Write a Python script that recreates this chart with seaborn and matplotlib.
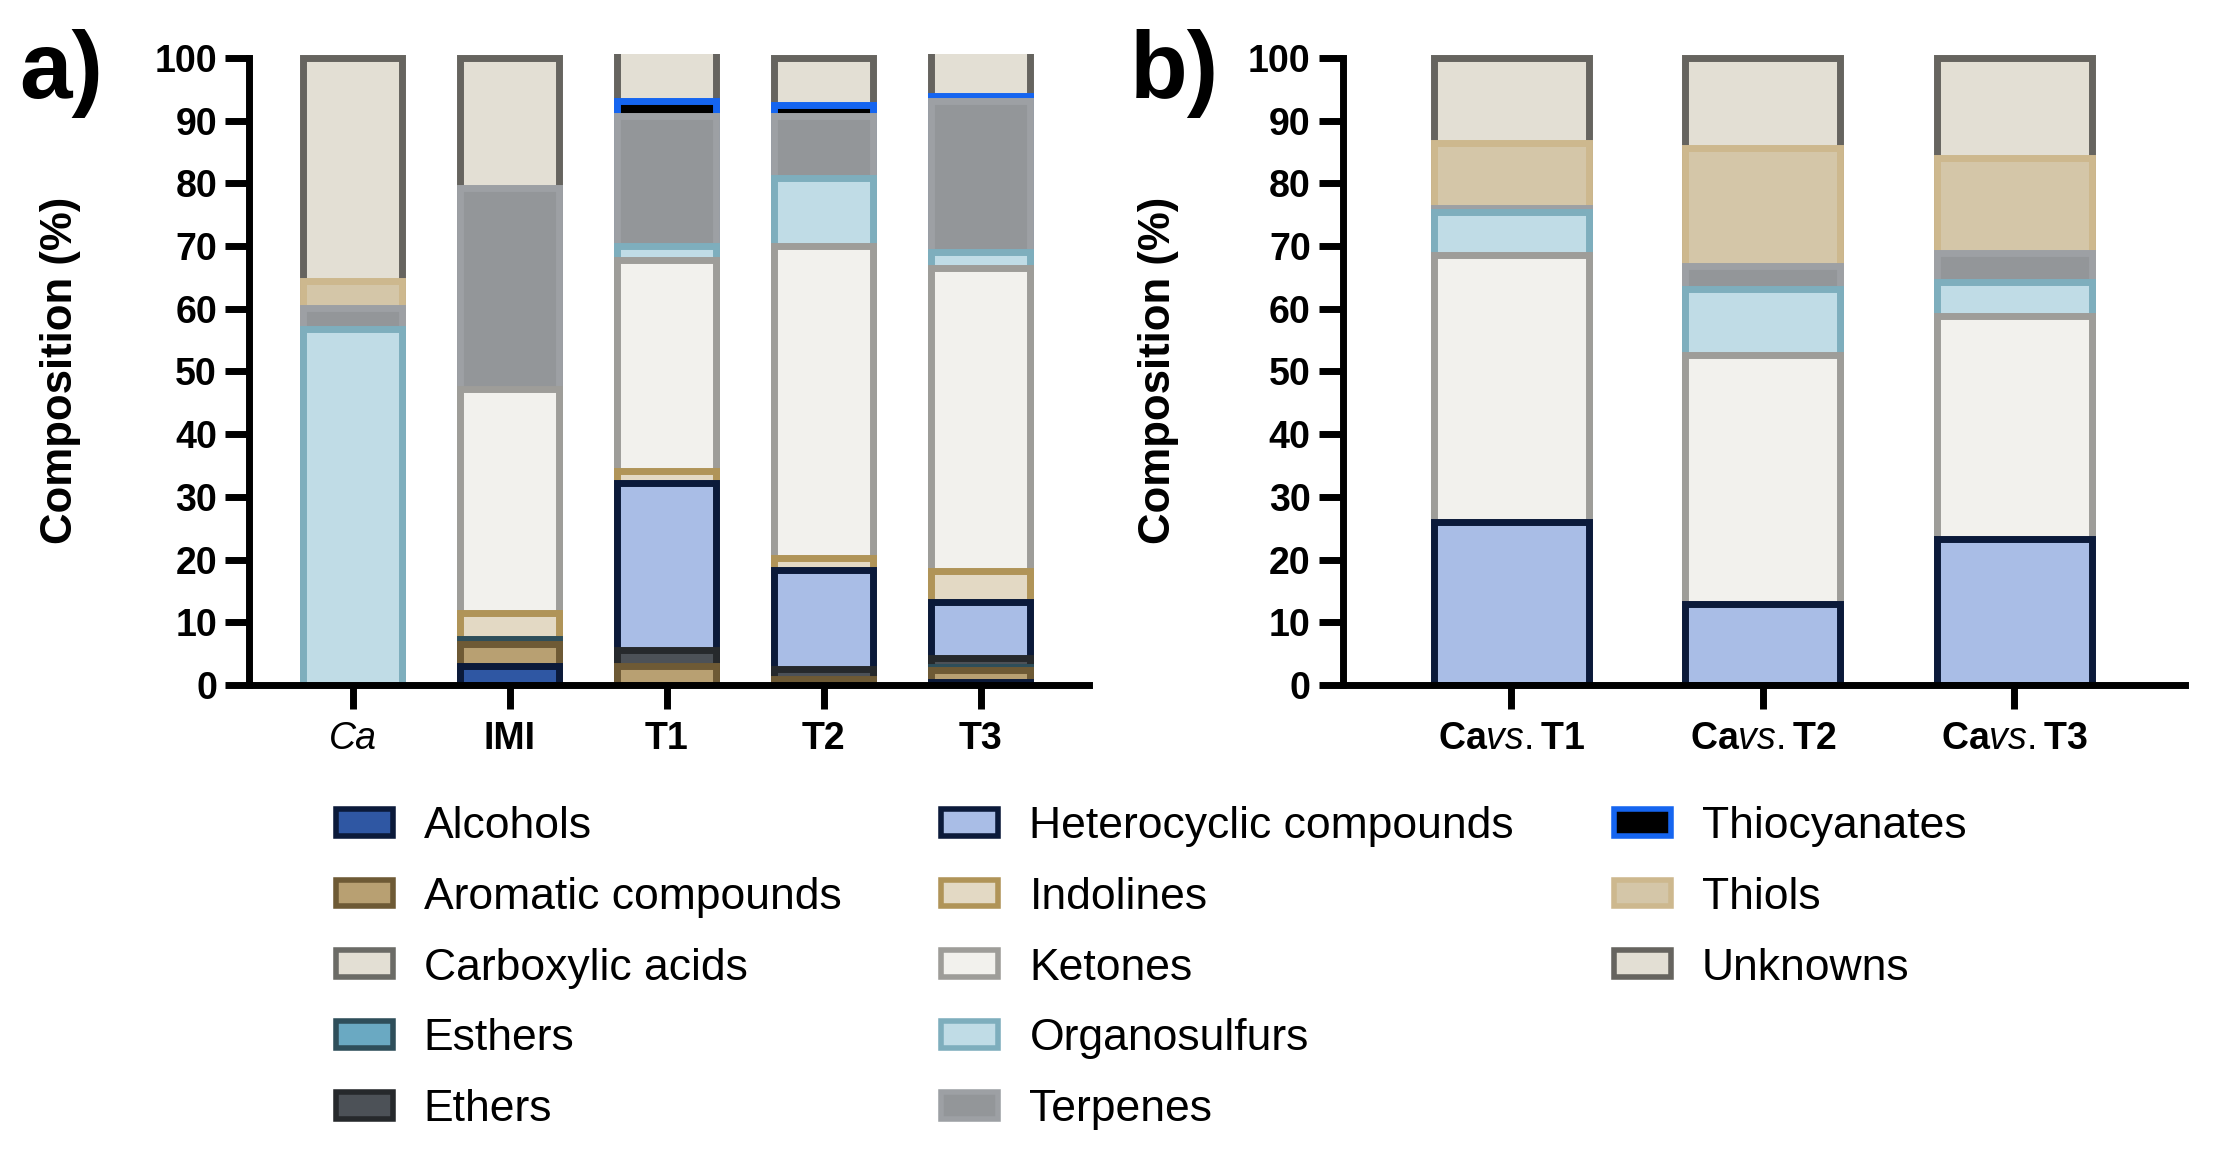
import numpy as np
import pandas as pd
import matplotlib.pyplot as plt
import seaborn as sns
from matplotlib.patches import Patch

# %% data (composition in %, stacked bottom -> top)
classes = ["Alcohols", "Aromatic compounds", "Carboxylic acids", "Esthers", "Ethers",
           "Heterocyclic compounds", "Indolines", "Ketones", "Organosulfurs",
           "Terpenes", "Thiocyanates", "Thiols", "Unknowns"]

samples_a = ["Ca", "IMI", "T1", "T2", "T3"]
alcohols_a = [0, 3.0, 0, 0, 0.5]
aromatic_a = [0, 3.6, 3.0, 0.9, 1.9]
carboxylic_a = [0, 0, 0, 0, 0]
esthers_a = [0, 0.8, 0, 0, 0.5]
ethers_a = [0, 0, 2.5, 1.6, 1.4]
heterocyclic_a = [0, 0, 26.7, 15.8, 8.9]
indolines_a = [0, 4.0, 2.0, 1.9, 4.9]
ketones_a = [0, 35.8, 33.6, 49.8, 48.4]
organosulfurs_a = [56.8, 0, 2.2, 10.9, 2.5]
terpenes_a = [3.4, 32.0, 20.7, 9.8, 24.2]
thiocyanates_a = [0, 0, 2.5, 1.8, 0.8]
thiols_a = [4.2, 0, 0, 0, 0]
unknowns_a = [35.6, 20.8, 8.3, 7.5, 7.5]

samples_b = ["Ca vs. T1", "Ca vs. T2", "Ca vs. T3"]
ticklabels_b = [r"$\mathbf{Ca}\mathit{vs.}\mathbf{T1}$",
                r"$\mathbf{Ca}\mathit{vs.}\mathbf{T2}$",
                r"$\mathbf{Ca}\mathit{vs.}\mathbf{T3}$"]
heterocyclic_b = [26.0, 12.9, 23.2]
ketones_b = [42.6, 39.7, 35.7]
organosulfurs_b = [6.8, 10.5, 5.3]
terpenes_b = [0.7, 3.7, 4.7]
thiols_b = [10.3, 18.9, 15.2]
unknowns_b = [13.6, 14.3, 15.9]

fills = ["#2f57a3", "#b8a072", "#e3dfd4", "#6aa9c2", "#4c5157", "#a9bde6", "#e3d9c4",
         "#f2f1ed", "#c0dce6", "#939699", "#000000", "#d4c6a8", "#e3dfd4"]
edges = ["#0b1a3a", "#6e5a35", "#6b6b66", "#2e4e5a", "#26292c", "#0b1a3a", "#b09458",
         "#9e9d99", "#7eaebd", "#9da0a4", "#1565f0", "#cdb88e", "#66645f"]

comp_a = dict(zip(classes, [alcohols_a, aromatic_a, carboxylic_a, esthers_a, ethers_a,
                            heterocyclic_a, indolines_a, ketones_a, organosulfurs_a,
                            terpenes_a, thiocyanates_a, thiols_a, unknowns_a]))
zero_b = [0, 0, 0]
comp_b = dict(zip(classes, [zero_b, zero_b, zero_b, zero_b, zero_b, heterocyclic_b,
                            zero_b, ketones_b, organosulfurs_b, terpenes_b, zero_b,
                            thiols_b, unknowns_b]))

# %% stil
sns.set_style("ticks")
plt.rcParams["font.family"] = ["Liberation Sans", "DejaVu Sans"]
plt.rcParams["mathtext.fontset"] = "custom"
plt.rcParams["mathtext.rm"] = "Liberation Sans"
plt.rcParams["mathtext.it"] = "Liberation Sans:italic"
plt.rcParams["mathtext.bf"] = "Liberation Sans:bold"
plt.rcParams["text.color"] = "black"
plt.rcParams["xtick.labelcolor"] = "black"
plt.rcParams["ytick.labelcolor"] = "black"

LW = 5


def stacked(ax, samples, comp, width):
    tab = pd.DataFrame(comp, index=samples)[classes]
    tops = tab.cumsum(axis=1)
    # draw tallest first, lower segments cover the rest
    for i in range(len(classes) - 1, -1, -1):
        cls = classes[i]
        sub = pd.DataFrame({"sample": samples, "top": tops[cls].values,
                            "val": tab[cls].values})
        sub = sub[sub["val"] > 0]
        if sub.empty:
            continue
        sns.barplot(data=sub, x="sample", y="top", order=samples, color=fills[i],
                    edgecolor=edges[i], linewidth=LW, width=width, saturation=1,
                    errorbar=None, ax=ax)


def style_axis(ax, xlim):
    ax.set_xlim(*xlim)
    ax.set_ylim(0, 100.6)
    ax.set_yticks(np.arange(0, 101, 10))
    ax.set_xlabel("")
    ax.set_ylabel("")
    sns.despine(ax=ax)
    ax.spines["left"].set_bounds(0, 100)
    for s in ["left", "bottom"]:
        ax.spines[s].set_linewidth(LW)
        ax.spines[s].set_color("black")
    ax.tick_params(axis="both", width=LW, length=17, color="black",
                   labelcolor="black", labelsize=27)
    ax.tick_params(axis="y", pad=6)
    ax.tick_params(axis="x", pad=9)
    for lbl in ax.get_yticklabels():
        lbl.set_fontweight("bold")


fig = plt.figure(figsize=(22.23, 11.58), dpi=100)
ax_a = fig.add_axes([0.112, 0.4085, 0.378, 0.5447])
ax_b = fig.add_axes([0.604, 0.4085, 0.379, 0.5447])

# %% a)
stacked(ax_a, samples_a, comp_a, 0.63)
style_axis(ax_a, (-0.66, 4.69))
for lbl in ax_a.get_xticklabels():
    lbl.set_fontweight("bold")
ca_lbl = ax_a.get_xticklabels()[0]
ca_lbl.set_fontweight("normal")
ca_lbl.set_fontstyle("italic")

# %% b)
stacked(ax_b, samples_b, comp_b, 0.616)
style_axis(ax_b, (-0.67, 2.68))
ax_b.set_xticks(range(len(samples_b)))
ax_b.set_xticklabels(ticklabels_b)

# %% yazılar
fig.text(0.0085, 0.915, "a)", fontsize=68, fontweight="bold", va="baseline")
fig.text(0.508, 0.915, "b)", fontsize=68, fontweight="bold", va="baseline")
fig.text(0.027, 0.680, "Composition (%)", fontsize=31.5, fontweight="bold",
         rotation=90, ha="center", va="center")
fig.text(0.521, 0.680, "Composition (%)", fontsize=31.5, fontweight="bold",
         rotation=90, ha="center", va="center")

# %% legend (5 + 5 + 3 entries per column)
handles = [Patch(facecolor=fills[i], edgecolor=edges[i], linewidth=4)
           for i in range(len(classes))]
labels = list(classes)
blank = Patch(facecolor="none", edgecolor="none")
handles += [blank, blank]
labels += ["", ""]
fig.legend(handles, labels, ncol=3, loc="upper left", bbox_to_anchor=(0.151, 0.304),
           frameon=False, fontsize=32, handlelength=1.28, handleheight=0.55,
           handletextpad=0.7, columnspacing=2.25, labelspacing=0.67,
           borderpad=0, borderaxespad=0, labelcolor="black")

plt.savefig("out.png", dpi=100)
